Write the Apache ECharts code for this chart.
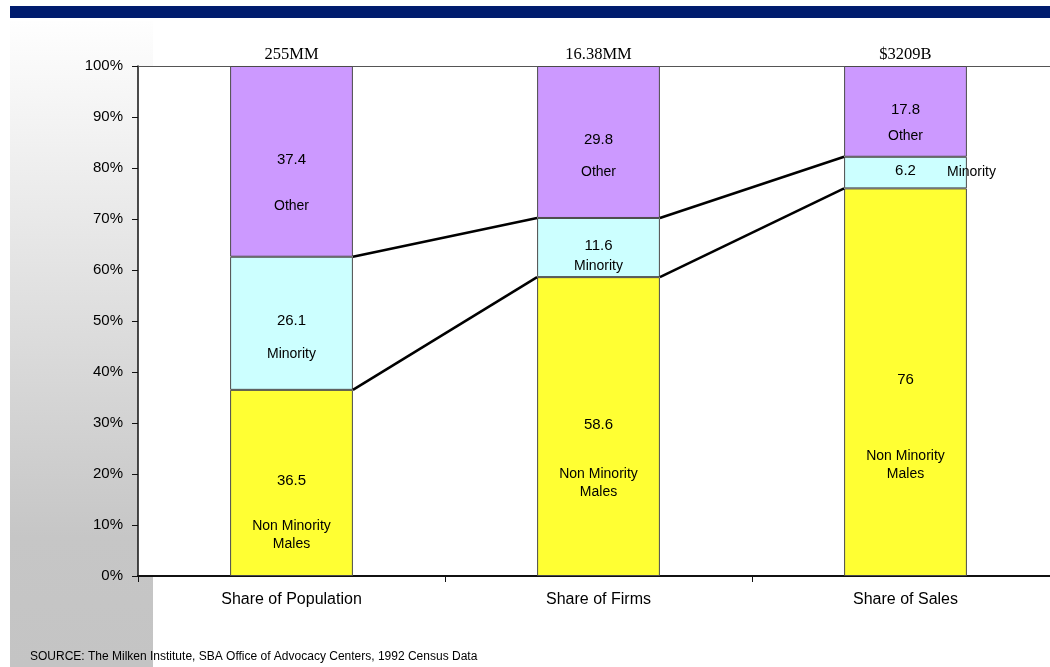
<!DOCTYPE html>
<html>
<head>
<meta charset="utf-8">
<script src="https://cdn.jsdelivr.net/npm/echarts@6/dist/echarts.min.js"></script>
<style>
  html, body { margin: 0; padding: 0; background: #fff; overflow: hidden; }
  #chart { width: 1059px; height: 667px; }
</style>
</head>
<body>
<div id="chart"></div>
<script>
// data (percent shares)
var categories = ["Share of Population", "Share of Firms", "Share of Sales"];
var totals = ["255MM", "16.38MM", "$3209B"];
var nonMinorityMales = [36.5, 58.6, 76];
var minority = [26.1, 11.6, 6.2];
var other = [37.4, 29.8, 17.8];
var segmentNames = ["Non Minority\nMales", "Minority", "Other"];
var yTicks = [0, 10, 20, 30, 40, 50, 60, 70, 80, 90, 100];

var segments = [nonMinorityMales, minority, other];
var colors = ["#ffff33", "#ccffff", "#cc99ff"];
var font = "'Liberation Sans', Arial, sans-serif";

// where the segment names sit relative to the segment middle (px)
var nameShift = [
  [[0, 52], [0, 57], [0, 83]],
  [[0, 31], [0, 19], [66, 0]],
  [[0, 45], [0, 30], [0, 25]]
];

var chart = echarts.init(document.getElementById("chart"));

function barSeries(idx) {
  return {
    name: segmentNames[idx].replace("\n", " "),
    type: "bar",
    stack: "total",
    barWidth: "40%",
    data: segments[idx],
    itemStyle: { color: colors[idx], borderColor: "#4a4a4a", borderWidth: 1 },
    label: {
      show: true,
      position: "inside",
      offset: [0, -2],
      color: "#000",
      fontFamily: font,
      fontSize: 15,
      formatter: function (p) { return String(p.value); }
    },
    z: 2
  };
}

var catData = categories.map(function (c, i) { return [i, 0]; });

chart.setOption({
  animation: false,
  grid: {
    left: 138, top: 66, right: 0, height: 510,
    show: true, backgroundColor: "#fff", borderWidth: 0
  },
  graphic: [
    {
      type: "rect", z: -10, silent: true,
      shape: { x: 10, y: 21, width: 143, height: 646 },
      style: {
        fill: new echarts.graphic.LinearGradient(0, 0, 0, 1, [
          { offset: 0, color: "#fefefe" },
          { offset: 0.8, color: "#c6c6c6" },
          { offset: 1, color: "#c4c4c4" }
        ])
      }
    },
    {
      type: "rect", z: -10, silent: true,
      shape: { x: 10, y: 6, width: 1049, height: 12 },
      style: { fill: "#001c6e" }
    },
    {
      type: "text", left: 30, top: 651, z: 10,
      style: {
        text: "SOURCE: The Milken Institute, SBA Office of Advocacy Centers, 1992 Census Data",
        fill: "#000", font: "12px " + font
      }
    }
  ],
  xAxis: [
    {
      type: "category",
      data: categories,
      position: "bottom",
      axisLine: { lineStyle: { color: "#111", width: 2 } },
      axisTick: { show: true, length: 6, lineStyle: { color: "#111", width: 1 } },
      axisLabel: { color: "#000", fontFamily: font, fontSize: 16, margin: 16 }
    },
    {
      type: "category",
      data: totals,
      position: "top",
      axisLine: { lineStyle: { color: "#555", width: 1 } },
      axisTick: { show: false },
      axisLabel: { color: "#000", fontFamily: "'Liberation Serif', 'Times New Roman', serif", fontSize: 16.5, margin: 3 }
    }
  ],
  yAxis: {
    type: "value",
    min: yTicks[0],
    max: yTicks[yTicks.length - 1],
    interval: yTicks[1] - yTicks[0],
    axisLine: { show: true, lineStyle: { color: "#111", width: 1.5 } },
    axisTick: { show: true, length: 6, lineStyle: { color: "#111" } },
    splitLine: { show: false },
    axisLabel: { color: "#000", fontFamily: font, fontSize: 15, margin: 15, formatter: "{value}%" }
  },
  series: [
    barSeries(0),
    barSeries(1),
    barSeries(2),
    {
      // connectors between the segment boundaries of neighbouring bars
      type: "custom",
      data: catData.slice(0, categories.length - 1),
      encode: { x: 0, y: 1 },
      z: 5,
      silent: true,
      renderItem: function (params, api) {
        var i = api.value(0);
        var half = api.size([1, 0])[0] * 0.2;
        var children = [];
        var cumA = 0, cumB = 0;
        for (var s = 0; s < segments.length - 1; s++) {
          cumA += segments[s][i];
          cumB += segments[s][i + 1];
          var a = api.coord([i, cumA]);
          var b = api.coord([i + 1, cumB]);
          children.push({
            type: "line",
            shape: { x1: a[0] + half, y1: a[1], x2: b[0] - half, y2: b[1] },
            style: { stroke: "#000", lineWidth: 2.5 }
          });
        }
        return { type: "group", children: children };
      }
    },
    {
      // segment names inside the bars
      type: "custom",
      data: catData,
      encode: { x: 0, y: 1 },
      z: 6,
      silent: true,
      renderItem: function (params, api) {
        var i = api.value(0);
        var children = [];
        var base = 0;
        for (var s = 0; s < segments.length; s++) {
          var v = segments[s][i];
          var p = api.coord([i, base + v / 2]);
          base += v;
          children.push({
            type: "text",
            x: p[0] + nameShift[s][i][0],
            y: p[1] + nameShift[s][i][1],
            style: {
              text: segmentNames[s],
              fill: "#000",
              font: "14px " + font,
              align: "center",
              verticalAlign: "middle",
              lineHeight: 18
            }
          });
        }
        return { type: "group", children: children };
      }
    }
  ]
});
</script>
</body>
</html>
